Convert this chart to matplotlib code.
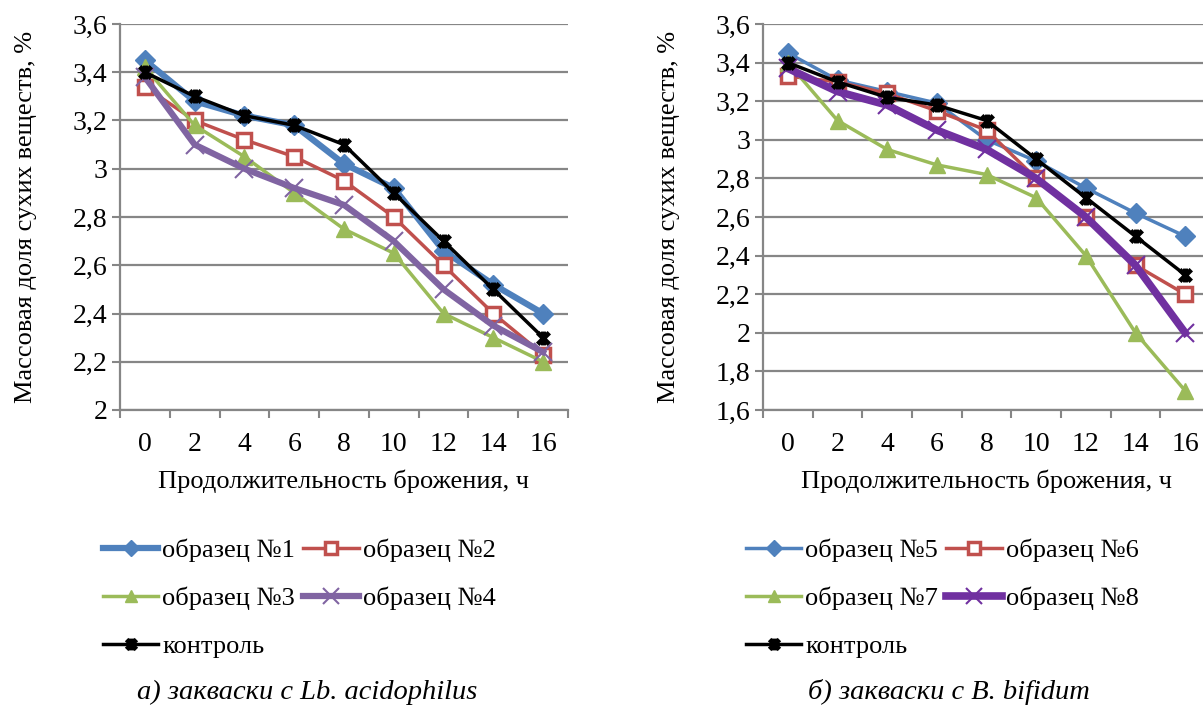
import matplotlib
matplotlib.use("Agg")
import matplotlib.pyplot as plt
from matplotlib.path import Path
from matplotlib.ticker import FixedLocator, FuncFormatter
import numpy as np

plt.rcParams['font.family'] = 'serif'
plt.rcParams['font.serif'] = ['Liberation Serif', 'Times New Roman', 'DejaVu Serif']

hours = ['0', '2', '4', '6', '8', '10', '12', '14', '16']

# starters with Lb. acidophilus
lb_sample1 = [3.45, 3.28, 3.22, 3.18, 3.02, 2.92, 2.66, 2.52, 2.40]
lb_sample2 = [3.34, 3.20, 3.12, 3.05, 2.95, 2.80, 2.60, 2.40, 2.23]
lb_sample3 = [3.42, 3.18, 3.05, 2.90, 2.75, 2.65, 2.40, 2.30, 2.20]
lb_sample4 = [3.38, 3.10, 3.00, 2.92, 2.85, 2.70, 2.50, 2.35, 2.24]
lb_control = [3.40, 3.30, 3.22, 3.18, 3.10, 2.90, 2.70, 2.50, 2.30]

# starters with B. bifidum
bf_sample5 = [3.45, 3.31, 3.25, 3.19, 3.00, 2.89, 2.75, 2.62, 2.50]
bf_sample6 = [3.33, 3.30, 3.24, 3.15, 3.05, 2.80, 2.60, 2.35, 2.20]
bf_sample7 = [3.40, 3.10, 2.95, 2.87, 2.82, 2.70, 2.40, 2.00, 1.70]
bf_sample8 = [3.37, 3.25, 3.18, 3.05, 2.95, 2.80, 2.60, 2.35, 2.00]
bf_control = [3.40, 3.30, 3.22, 3.18, 3.10, 2.90, 2.70, 2.50, 2.30]

left_labels = ['образец №1', 'образец №2', 'образец №3', 'образец №4', 'контроль']
right_labels = ['образец №5', 'образец №6', 'образец №7', 'образец №8', 'контроль']

BLUE = '#4f81bd'
RED = '#c0504d'
GREEN = '#9bbb59'
PURPLE_L = '#8064a2'
PURPLE_R = '#7030a0'
GRID = '#868686'

# asterisk: an x with a vertical stroke through it
asterisk = Path([(-1, -1), (1, 1), (-1, 1), (1, -1), (0, -1.2), (0, 1.2)],
                [Path.MOVETO, Path.LINETO, Path.MOVETO, Path.LINETO,
                 Path.MOVETO, Path.LINETO])

W, H = 1203, 705
fig = plt.figure(figsize=(W / 100, H / 100), dpi=100)


def px_axes(x0, x1, y0, y1):
    return fig.add_axes([x0 / W, 1 - y1 / H, (x1 - x0) / W, (y1 - y0) / H])


def style_axes(ax, ymin, ymax):
    ax.set_xlim(-0.5, len(hours) - 0.5)
    ax.set_ylim(ymin, ymax)
    ax.set_xticks(range(len(hours)))
    ax.set_xticklabels(hours, fontsize=20)
    ax.xaxis.set_minor_locator(FixedLocator(np.arange(-0.5, len(hours), 1)))
    ax.tick_params(axis='x', which='major', length=0, pad=16)
    ax.tick_params(axis='x', which='minor', length=6, width=1.5, color=GRID)
    yt = np.round(np.arange(ymin, ymax + 0.01, 0.2), 1)
    ax.set_yticks(yt)
    ax.yaxis.set_major_formatter(FuncFormatter(lambda v, p: ('%g' % round(v, 1)).replace('.', ',')))
    ax.tick_params(axis='y', length=6, width=1.5, color=GRID, labelsize=20, pad=3)
    ax.grid(axis='y', color=GRID, linewidth=1.6)
    ax.set_axisbelow(True)
    for s in ['top', 'right']:
        ax.spines[s].set_visible(False)
    for s in ['left', 'bottom']:
        ax.spines[s].set_color(GRID)
        ax.spines[s].set_linewidth(1.6)
    ax.set_xlabel('Продолжительность брожения, ч', fontsize=19, labelpad=9)
    ax.set_ylabel('Массовая доля сухих веществ, %', fontsize=19, labelpad=26)


def draw_series(ax, data, labels, purple, blue_lw, purple_lw):
    x = np.arange(len(hours))
    h = []
    h += ax.plot(x, data[0], color=BLUE, lw=blue_lw, marker='D', ms=10,
                 mfc=BLUE, mec=BLUE, label=labels[0])
    h += ax.plot(x, data[1], color=RED, lw=2.5, marker='s', ms=10, mew=2.5,
                 mfc='white', mec=RED, label=labels[1])
    h += ax.plot(x, data[2], color=GREEN, lw=2.5, marker='^', ms=11,
                 mfc=GREEN, mec=GREEN, label=labels[2])
    h += ax.plot(x, data[3], color=purple, lw=purple_lw, marker='x', ms=13, mew=1.5,
                 mec=purple, label=labels[3])
    h += ax.plot(x, data[4], color='black', lw=2.5, marker=asterisk, ms=10, mew=3.5,
                 mec='black', label=labels[4])
    for line in h:
        line.set_clip_on(False)
    return h


ax1 = px_axes(120, 568, 24, 410)
style_axes(ax1, 2.0, 3.6)
h1 = draw_series(ax1, [lb_sample1, lb_sample2, lb_sample3, lb_sample4, lb_control],
                 left_labels, PURPLE_L, 4.5, 4.5)

ax2 = px_axes(763, 1210, 24, 410)
style_axes(ax2, 1.6, 3.6)
h2 = draw_series(ax2, [bf_sample5, bf_sample6, bf_sample7, bf_sample8, bf_control],
                 right_labels, PURPLE_R, 2.5, 5.5)

order = [0, 2, 4, 1, 3]
for hs, x0 in [(h1, 103), (h2, 746)]:
    fig.legend([hs[i] for i in order], [hs[i].get_label() for i in order],
               loc='upper left', bbox_to_anchor=(x0 / W, 1 - 539 / H), ncol=2,
               frameon=False, fontsize=19, handlelength=2.1, handletextpad=0.15,
               columnspacing=0.3, labelspacing=0.92, borderpad=0, borderaxespad=0,
               markerscale=0.85)

fig.text(137 / W, 1 - 692 / H, 'а) закваски с Lb. acidophilus', fontsize=20.5,
         style='italic', ha='left', va='center')
fig.text(808 / W, 1 - 692 / H, 'б) закваски с B. bifidum', fontsize=20.5,
         style='italic', ha='left', va='center')

fig.savefig('out.png', dpi=100, facecolor='white')
